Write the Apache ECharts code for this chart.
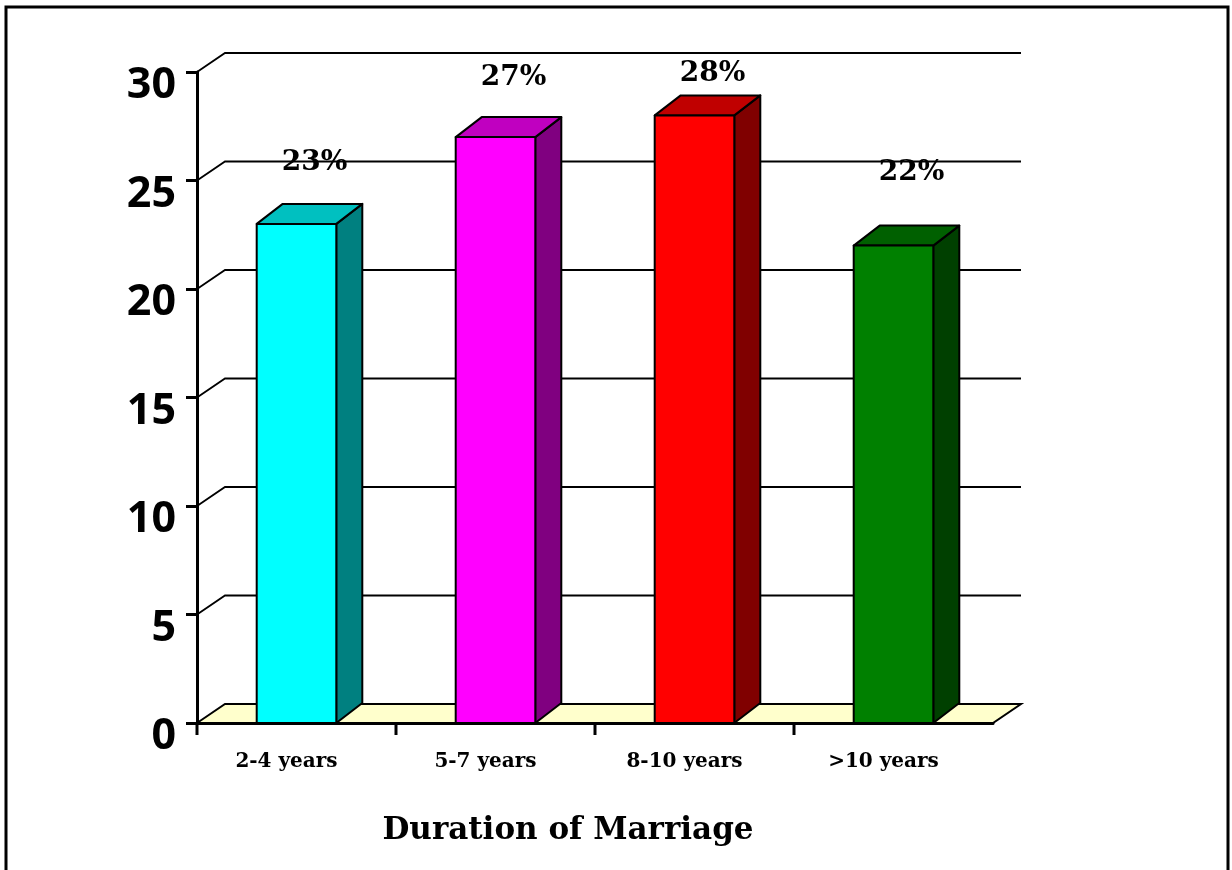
<!DOCTYPE html>
<html>
<head>
<meta charset="utf-8">
<style>
  html, body { margin: 0; padding: 0; background: #ffffff; }
  #chart { width: 1232px; height: 870px; }
</style>
<script src="https://cdn.jsdelivr.net/npm/echarts@6/dist/echarts.min.js"></script>
</head>
<body>
<div id="chart"></div>
<script>
// Duration of marriage, share of respondents (%)
const categories = ['2-4 years', '5-7 years', '8-10 years', '>10 years'];
const shares = [23, 27, 28, 22];
const yTicks = [0, 5, 10, 15, 20, 25, 30];

// Face colours of each box: front, top, right side
const frontColors = ['#00FFFF', '#FF00FF', '#FF0000', '#008000'];
const topColors = ['#00C0C0', '#C000C0', '#C00000', '#006000'];
const sideColors = ['#008080', '#800080', '#800000', '#004000'];

// Extra lift of each percentage label above its box (px)
const labelLift = [61, 59, 42, 73];

const WALL_DX = 28, WALL_DY = -19;   // depth of back wall / floor
const BAR_DX = 26, BAR_DY = -20;     // depth of each box
const SERIF = '"DejaVu Serif", "Liberation Serif", serif';

const chart = echarts.init(document.getElementById('chart'), null, { renderer: 'canvas' });

const option = {
  backgroundColor: '#ffffff',
  animation: false,
  graphic: [{
    type: 'rect',
    shape: { x: 6, y: 7, width: 1222, height: 900 },
    style: { fill: 'none', stroke: '#000000', lineWidth: 3 },
    silent: true
  }],
  grid: { left: 197, right: 239, top: 72, bottom: 147 },
  xAxis: {
    type: 'category',
    data: categories,
    z: 5,
    axisLine: { show: true, lineStyle: { color: '#000000', width: 3 } },
    axisTick: { show: false },
    axisLabel: {
      color: '#000000', fontFamily: SERIF, fontWeight: 'bold', fontSize: 20,
      margin: 29, padding: [0, 20, 0, 0]
    },
    name: 'Duration of Marriage',
    nameLocation: 'middle',
    nameGap: 92,
    nameTextStyle: {
      color: '#000000', fontFamily: SERIF, fontWeight: 'bold', fontSize: 31,
      padding: [0, 54, 0, 0]
    },
    splitLine: { show: false }
  },
  yAxis: {
    type: 'value',
    min: yTicks[0],
    max: yTicks[yTicks.length - 1],
    interval: yTicks[1] - yTicks[0],
    z: 5,
    axisLine: { show: true, lineStyle: { color: '#000000', width: 3 } },
    axisTick: { show: true, length: 11, lineStyle: { color: '#000000', width: 3 } },
    axisLabel: {
      color: '#000000', fontFamily: '"Noto Sans", Lato, sans-serif', fontWeight: 'bold',
      fontSize: 43, margin: 21, verticalAlign: 'top', lineHeight: 28
    },
    splitLine: { show: false }
  },
  series: [
    {
      // back wall gridlines and floor
      type: 'custom',
      z: 1,
      silent: true,
      data: [[0, 0]],
      renderItem: function (params, api) {
        const cs = params.coordSys;
        const left = cs.x, right = cs.x + cs.width;
        const children = [];
        yTicks.forEach(function (v) {
          const y = api.coord([0, v])[1];
          if (v === yTicks[0]) {
            children.push({
              type: 'polygon',
              shape: { points: [[left, y], [left + WALL_DX, y + WALL_DY], [right + WALL_DX, y + WALL_DY], [right, y]] },
              style: { fill: '#FFFFCC', stroke: '#000000', lineWidth: 2 }
            });
          } else {
            children.push({
              type: 'polyline',
              shape: { points: [[left, y], [left + WALL_DX, y + WALL_DY], [right + WALL_DX, y + WALL_DY]] },
              style: { fill: 'none', stroke: '#000000', lineWidth: 1.8 }
            });
          }
        });
        // category boundary ticks below the floor edge
        const band = api.size([1, 0])[0];
        const y0 = api.coord([0, 0])[1];
        for (let i = 0; i < categories.length; i++) {
          const x = api.coord([i, 0])[0] - band / 2;
          children.push({
            type: 'line',
            shape: { x1: x, y1: y0, x2: x, y2: y0 + 12 },
            style: { stroke: '#000000', lineWidth: 3 }
          });
        }
        return { type: 'group', children: children };
      }
    },
    {
      // boxes with their percentage labels
      type: 'custom',
      z: 3,
      silent: true,
      encode: { x: 0, y: 1 },
      data: shares.map(function (v, i) { return [i, v]; }),
      renderItem: function (params, api) {
        const i = api.value(0);
        const v = api.value(1);
        const base = api.coord([i, 0]);
        const top = api.coord([i, v]);
        const band = api.size([1, 0])[0];
        const w = band * 0.4;
        const x0 = base[0] - w / 2, x1 = base[0] + w / 2;
        const yb = base[1], yt = top[1];
        const edge = { stroke: '#000000', lineWidth: 2, lineJoin: 'round' };
        return {
          type: 'group',
          children: [
            {
              type: 'polygon',
              shape: { points: [[x1, yt], [x1 + BAR_DX, yt + BAR_DY], [x1 + BAR_DX, yb + BAR_DY], [x1, yb]] },
              style: Object.assign({ fill: sideColors[i] }, edge)
            },
            {
              type: 'polygon',
              shape: { points: [[x0, yt], [x1, yt], [x1 + BAR_DX, yt + BAR_DY], [x0 + BAR_DX, yt + BAR_DY]] },
              style: Object.assign({ fill: topColors[i] }, edge)
            },
            {
              type: 'rect',
              shape: { x: x0, y: yt, width: w, height: yb - yt },
              style: Object.assign({ fill: frontColors[i] }, edge)
            },
            {
              type: 'text',
              x: base[0] + BAR_DX / 2 + 5,
              y: yt - labelLift[i],
              style: {
                text: v + '%',
                fill: '#000000',
                font: 'bold 28px ' + SERIF,
                align: 'center',
                verticalAlign: 'middle'
              }
            }
          ]
        };
      }
    }
  ]
};

chart.setOption(option);
</script>
</body>
</html>
